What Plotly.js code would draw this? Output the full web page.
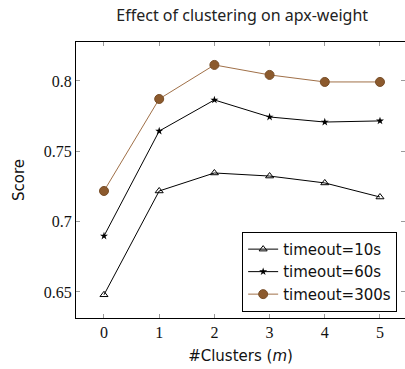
<!DOCTYPE html>
<html><head><meta charset="utf-8">
<script src="https://cdn.plot.ly/plotly-3.0.1.min.js"></script>
<style>html,body{margin:0;padding:0;background:#fff}#chart{width:405px;height:369px}</style>
</head><body><div id="chart"></div>
<script>
const clusters = [0, 1, 2, 3, 4, 5];
const timeout10 = [0.648, 0.7218, 0.7346, 0.7324, 0.7275, 0.7175];
const timeout60 = [0.6898, 0.7644, 0.7865, 0.7744, 0.7708, 0.7716];
const timeout300 = [0.7218, 0.7872, 0.8114, 0.8043, 0.7993, 0.7993];
const seriesNames = ['timeout=10s', 'timeout=60s', 'timeout=300s'];
const yTickVals = [0.65, 0.7, 0.75, 0.8];
const yTickText = ['0.65', '0.7', '0.75', '0.8'];

const brown = 'rgb(160,112,72)';
const traces = [
  {x: clusters, y: timeout10, name: seriesNames[0], mode: 'lines+markers',
   line: {color: 'black', width: 1},
   marker: {symbol: 'triangle-up-open', size: 7, color: 'black', line: {width: 1, color: 'black'}}},
  {x: clusters, y: timeout60, name: seriesNames[1], mode: 'lines+markers',
   line: {color: 'black', width: 1},
   marker: {symbol: 'star', size: 6, color: 'black', line: {width: 0}}},
  {x: clusters, y: timeout300, name: seriesNames[2], mode: 'lines+markers',
   line: {color: brown, width: 1},
   marker: {symbol: 'circle', size: 9, color: 'rgb(140,90,45)', line: {width: 1, color: 'rgb(120,78,40)'}}}
];
const layout = {
  width: 405, height: 369,
  margin: {l: 76, r: 0, t: 42, b: 51},
  paper_bgcolor: 'white', plot_bgcolor: 'white',
  title: {text: 'Effect of clustering on apx-weight', font: {family: 'Noto Sans', size: 16, color: '#222'}, x: 0.598, xanchor: 'center', y: 0.958, yanchor: 'middle'},
  showlegend: true,
  legend: {x: 0.505, y: 0.312, xanchor: 'left', yanchor: 'top', bordercolor: 'black', borderwidth: 1,
           bgcolor: 'white', font: {family: 'DejaVu Sans', size: 15, color: '#111'}, tracegroupgap: 0, itemwidth: 30},
  xaxis: {range: [-0.507, 5.453], tickvals: clusters, ticktext: clusters.map(String),
          ticks: 'inside', ticklen: 4, tickcolor: '#999', showline: true, linecolor: 'black', linewidth: 1,
          mirror: 'ticks', showgrid: false, zeroline: false,
          tickfont: {family: 'Liberation Serif', size: 16, color: '#111'},
          title: {text: '#Clusters (<i>m</i>)', font: {family: 'DejaVu Sans', size: 15, color: '#111'}, standoff: 10}},
  yaxis: {range: [0.6315, 0.8277], tickvals: yTickVals, ticktext: yTickText,
          ticks: 'inside', ticklen: 4, tickcolor: '#999', showline: true, linecolor: 'black', linewidth: 1,
          mirror: 'ticks', showgrid: false, zeroline: false,
          tickfont: {family: 'Liberation Serif', size: 16, color: '#111'},
          title: {text: 'Score', font: {family: 'DejaVu Sans', size: 15, color: '#111'}, standoff: 15}}
};
Plotly.newPlot('chart', traces, layout, {displayModeBar: false, staticPlot: true});
</script></body></html>
